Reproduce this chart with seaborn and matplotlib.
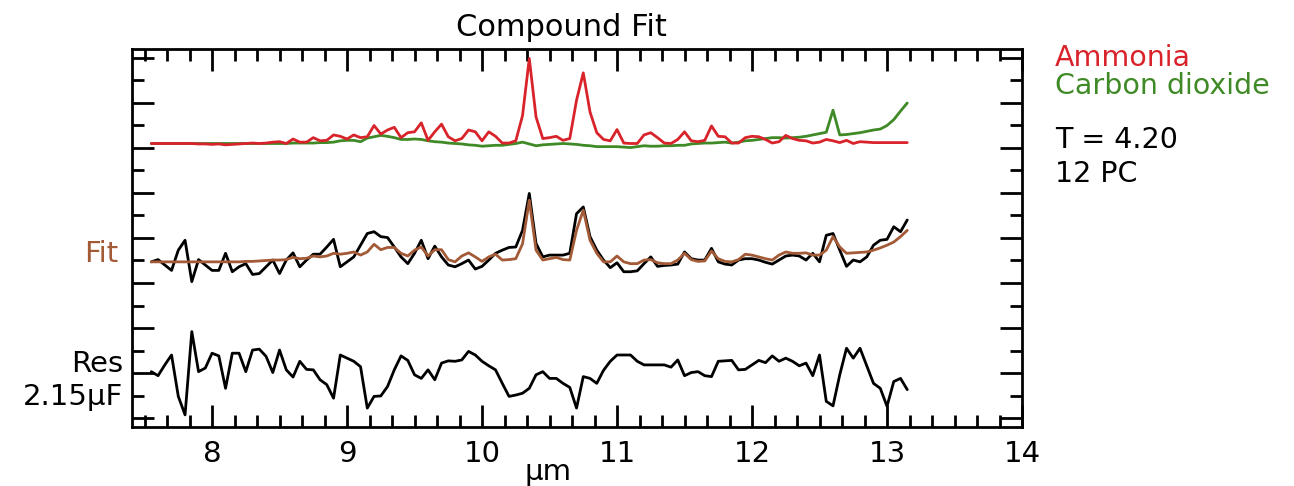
import numpy as np
import matplotlib
matplotlib.use("Agg")
import matplotlib.pyplot as plt
from matplotlib.ticker import MultipleLocator
import seaborn as sns

# Spectral sampling grid (µm): 113 channels, 0.05 µm apart
wavelength = np.linspace(7.55, 13.15, 113)

# Component spectra (relative to their common baseline)
ammonia = [
    0, 0, 0, 0, 0, 0, 0,
    -0.01, -0.01, -0.02, -0.01, -0.03, -0.02, -0.01,
    0, 0.01, 0, 0.01, 0.03, 0.04, 0,
    0.10, 0.03, 0.03, 0.13, 0.06, 0.07, 0.19,
    0.16, 0.10, 0.19, 0.13, 0.15, 0.40, 0.21,
    0.30, 0.36, 0.13, 0.24, 0.26, 0.46, 0.07,
    0.26, 0.43, 0.15, 0.06, 0.11, 0.30, 0.26,
    0.06, 0.26, 0.16, 0.01, 0.01, 0.06, 0.62,
    1.89, 0.59, 0.11, 0.13, 0.16, 0.07, 0.11,
    0.96, 1.57, 0.70, 0.24, 0.09, 0.06, 0.31,
    0.01, 0, 0, 0.19, 0.24, 0.13, 0.01,
    0, 0.09, 0.26, 0.06, 0.04, 0.07, 0.39,
    0.16, 0.15, 0.01, 0.01, 0.13, 0.16, 0.15,
    0.09, 0.01, 0.04, 0.18, 0.11, 0.07, 0.06,
    0.01, 0.03, 0.09, 0.06, 0.02, 0.07, 0,
    0.04, 0.03, 0.02, 0.02, 0.02, 0.02, 0.02, 0.02,
]
carbon_dioxide = [
    0, 0, 0, 0, 0, 0, 0,
    0, 0, 0, 0, 0, 0, 0,
    0, 0, 0, 0, 0, 0, 0,
    0.01, 0.01, 0.01, 0.01, 0.02, 0.02, 0.03,
    0.06, 0.07, 0.07, 0.04, 0.12, 0.15, 0.18,
    0.16, 0.13, 0.09, 0.09, 0.10, 0.09, 0.06,
    0.04, 0.03, 0.01, 0, -0.01, -0.03, -0.04,
    -0.06, -0.05, -0.04, -0.04, -0.02, 0, 0.03,
    -0.01, -0.05, -0.03, -0.02, -0.01, 0, -0.01,
    -0.02, -0.04, -0.05, -0.07, -0.07, -0.07, -0.07,
    -0.08, -0.09, -0.07, -0.05, -0.06, -0.06, -0.05,
    -0.05, -0.04, -0.04, -0.01, 0, 0.01, 0.01,
    0.02, 0.03, 0.01, 0.03, 0.06, 0.07, 0.09,
    0.11, 0.13, 0.13, 0.12, 0.13, 0.14, 0.16,
    0.19, 0.22, 0.25, 0.74, 0.19, 0.20, 0.22,
    0.24, 0.27, 0.30, 0.32, 0.40, 0.53, 0.72, 0.90,
]

# Measured spectrum and compound fit
measured = [
    0, 0.05, -0.07, -0.19, 0.26, 0.48, -0.44,
    0.05, -0.07, -0.19, -0.19, 0.19, -0.22, -0.11,
    -0.04, -0.28, -0.26, -0.11, 0.04, -0.26, 0.04,
    0.20, -0.11, 0.04, 0.17, 0.17, 0.33, 0.50,
    -0.11, 0, 0.11, 0.37, 0.63, 0.67, 0.56,
    0.54, 0.33, 0.11, -0.04, 0.19, 0.48, 0.07,
    0.35, 0.11, -0.07, -0.11, -0.04, 0.04, -0.16,
    -0.10, 0.04, 0.19, 0.26, 0.32, 0.33, 0.70,
    1.52, 0.41, 0.11, 0.15, 0.15, 0.15, 0.19,
    1.07, 1.22, 0.56, 0.26, 0.04, -0.13, -0.02,
    -0.22, -0.22, -0.20, -0.04, 0.11, -0.10, -0.08,
    -0.07, -0.05, 0.22, 0.07, 0.04, 0.04, 0.30,
    0, -0.05, -0.07, 0.04, 0.07, 0.07, 0.04,
    -0.01, -0.05, 0.04, 0.13, 0.15, 0.13, 0.04,
    0.19, 0, 0.59, 0.63, 0.26, -0.10, 0.04,
    0, 0.11, 0.37, 0.48, 0.50, 0.78, 0.67, 0.93,
]
fit = [
    0, 0, 0, 0, 0, 0, 0,
    0, 0, 0, 0, 0, 0, 0,
    0.01, 0.01, 0.02, 0.03, 0.04, 0.04, 0.05,
    0.10, 0.07, 0.08, 0.13, 0.11, 0.13, 0.19,
    0.17, 0.19, 0.22, 0.15, 0.22, 0.39, 0.27,
    0.32, 0.32, 0.19, 0.13, 0.26, 0.33, 0.13,
    0.27, 0.27, 0.05, 0, 0.13, 0.20, 0.11,
    0.01, 0.11, 0.17, 0.04, 0.05, 0.07, 0.40,
    1.37, 0.26, 0.04, 0.07, 0.10, 0.05, 0.04,
    0.70, 1.15, 0.48, 0.19, 0, 0, 0.13,
    0, -0.04, -0.04, 0.04, 0.05, -0.02, -0.04,
    -0.04, 0.04, 0.19, 0.05, 0.01, 0.02, 0.24,
    0.07, 0.01, 0, 0.05, 0.17, 0.15, 0.11,
    0.07, 0.04, 0.15, 0.22, 0.19, 0.19, 0.20,
    0.15, 0.15, 0.26, 0.56, 0.33, 0.19, 0.20,
    0.21, 0.22, 0.26, 0.31, 0.37, 0.44, 0.56, 0.70,
]

# Fit residual
residual = [
    -0.04, -0.13, 0.11, 0.33, -0.59, -1.00, 0.85,
    -0.04, 0.04, 0.37, 0.31, -0.41, 0.37, 0.37,
    -0.04, 0.44, 0.46, 0.30, -0.06, 0.44, 0,
    -0.16, 0.19, 0.01, 0, -0.22, -0.33, -0.63,
    0.33, 0.26, 0.19, 0.07, -0.85, -0.59, -0.58,
    -0.37, 0, 0.31, 0.21, -0.11, -0.19, 0,
    -0.22, 0.15, 0.20, 0.19, 0.22, 0.41, 0.33,
    0.19, 0.09, 0, -0.30, -0.59, -0.56, -0.52,
    -0.41, -0.11, -0.04, -0.19, -0.19, -0.30, -0.39,
    -0.85, -0.15, -0.19, -0.30, -0.01, 0.19, 0.33,
    0.33, 0.33, 0.19, 0.11, 0.11, 0.11, 0.11,
    0.06, 0.22, -0.13, -0.06, -0.04, -0.13, -0.15,
    0.19, 0.20, 0.21, 0, 0.01, 0.11, 0.21,
    0.16, 0.31, 0.19, 0.26, 0.19, 0.09, 0.15,
    -0.13, 0.33, -0.70, -0.80, -0.11, 0.48, 0.26,
    0.48, 0.09, -0.30, -0.41, -0.81, -0.26, -0.19, -0.44,
]

# Vertical stacking of the three panels
OFFSET_COMPONENTS = 6.10
OFFSET_FIT = 3.47
OFFSET_RESIDUAL = 1.07

RED = "#d9232b"
GREEN = "#3f8a26"
BROWN = "#a35a36"
LW = 2.0

sns.set_theme(style="ticks")
plt.rcParams["font.family"] = ["DejaVu Sans"]
plt.rcParams["text.color"] = "black"
plt.rcParams["xtick.color"] = "black"
plt.rcParams["ytick.color"] = "black"

W, H = 1294, 486
fig = plt.figure(figsize=(W / 100, H / 100), dpi=100)
ax = fig.add_axes([132 / W, 1 - 427 / H, (1022 - 132) / W, (427 - 49) / H])

def draw(values, offset, color):
    sns.lineplot(x=wavelength, y=np.asarray(values) + offset, ax=ax,
                 color=color, lw=LW, estimator=None, sort=False)

draw(carbon_dioxide, OFFSET_COMPONENTS, GREEN)
draw(ammonia, OFFSET_COMPONENTS, RED)
draw(measured, OFFSET_FIT, "black")
draw(fit, OFFSET_FIT, BROWN)
draw(residual, OFFSET_RESIDUAL, "black")

ax.set_xlim(7.407, 14.0)
ax.set_ylim(-0.2, 8.2)
ax.xaxis.set_major_locator(MultipleLocator(1))
ax.xaxis.set_minor_locator(MultipleLocator(1 / 6))
ax.yaxis.set_major_locator(MultipleLocator(1))
ax.yaxis.set_minor_locator(MultipleLocator(0.5))
ax.tick_params(which="both", direction="in", top=True, right=True,
               width=2, color="black")
ax.tick_params(which="major", length=16)
ax.tick_params(which="minor", length=8.5)
ax.tick_params(axis="y", labelleft=False)
ax.tick_params(axis="x", labelsize=21, pad=9, labelcolor="black")
for sp in ax.spines.values():
    sp.set_linewidth(2)
    sp.set_color("black")
ax.set_xlabel("")
ax.set_ylabel("")

fig.text(561 / W, 1 - 36 / H, "Compound Fit", ha="center", va="baseline", fontsize=22)
fig.text(548 / W, 1 - 480 / H, "µm", ha="center", va="baseline", fontsize=21)

fig.text(118 / W, 1 - 262 / H, "Fit", color=BROWN, ha="right", va="baseline", fontsize=21)
fig.text(123 / W, 1 - 372 / H, "Res", ha="right", va="baseline", fontsize=21)
fig.text(123 / W, 1 - 405 / H, "2.15µF", ha="right", va="baseline", fontsize=21)

fig.text(1055 / W, 1 - 66 / H, "Ammonia", color=RED, ha="left", va="baseline", fontsize=20.5)
fig.text(1055 / W, 1 - 94.5 / H, "Carbon dioxide", color=GREEN, ha="left", va="baseline", fontsize=20.5)
fig.text(1055 / W, 1 - 148 / H, "T = 4.20", ha="left", va="baseline", fontsize=20.5)
fig.text(1055 / W, 1 - 182 / H, "12 PC", ha="left", va="baseline", fontsize=20.5)

fig.savefig("out.png", dpi=100, facecolor="white")
